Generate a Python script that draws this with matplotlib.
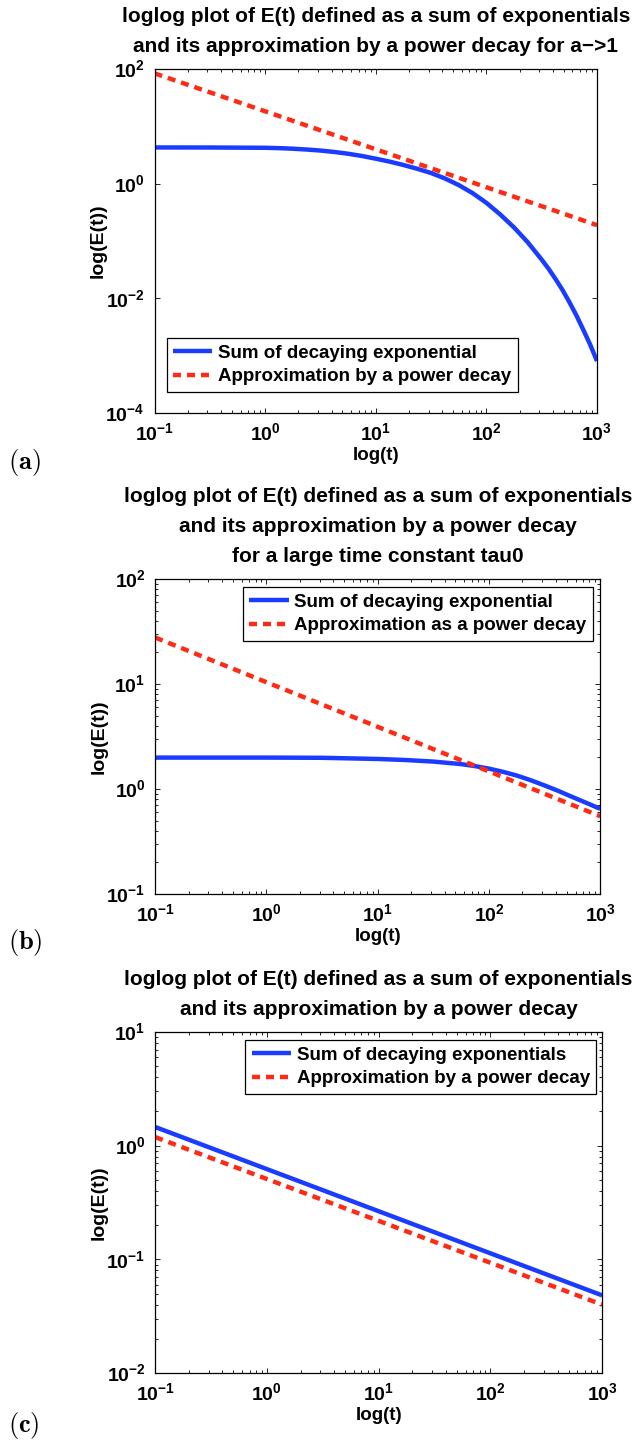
import matplotlib
matplotlib.use("Agg")
import matplotlib.pyplot as plt
from matplotlib.ticker import LogLocator, NullLocator

plt.rcParams['font.family'] = ['Liberation Sans', 'DejaVu Sans']
plt.rcParams['font.weight'] = 'bold'
plt.rcParams['mathtext.fontset'] = 'custom'
plt.rcParams['mathtext.rm'] = 'Liberation Sans'
plt.rcParams['mathtext.bf'] = 'Liberation Sans:bold'

# (a) a -> 1
t_a = [0.1, 0.316, 1, 1.33, 1.78, 2.37, 3.16, 4.22, 5.62, 7.50, 10, 13.3, 17.8,
       23.7, 31.6, 42.2, 56.2, 75.0, 100, 133, 178, 237, 316, 365, 422, 487,
       562, 649, 750, 866, 1000]
sum_a = [4.285, 4.276, 4.227, 4.169, 4.074, 3.945, 3.784, 3.573, 3.327, 3.041,
         2.729, 2.427, 2.118, 1.820, 1.535, 1.233, 0.946, 0.685, 0.463, 0.292,
         0.172, 0.0946, 0.0474, 0.0328, 0.0217, 0.01406, 0.00863, 0.00511,
         0.00286, 0.00157, 0.000805]
t_pow_a = [0.1, 1, 10, 100, 1000]
pow_a = [84, 18.3, 3.98, 0.867, 0.189]

# (b) large tau0
t_b = [0.1, 1, 3.16, 10, 17.8, 31.6, 56.2, 75.0, 100, 133, 178, 237, 316,
       422, 562, 750, 1000]
sum_b = [1.991, 1.991, 1.982, 1.932, 1.888, 1.824, 1.726, 1.652, 1.563, 1.459,
         1.343, 1.213, 1.081, 0.957, 0.839, 0.738, 0.647]
t_pow_b = [0.1, 1, 10, 100, 1000]
pow_b = [27.7, 10.4, 3.91, 1.47, 0.551]

# (c)
t_c = [0.1, 1, 10, 100, 1000]
sum_c = [1.46, 0.622, 0.265, 0.113, 0.0482]
pow_c = [1.19, 0.509, 0.218, 0.0933, 0.0399]

x_exps = [-1, 0, 1, 2, 3]

panels = [
    dict(pos=[0.240, 0.7134, 0.687, 0.2387], t=t_a, e=sum_a, tp=t_pow_a, ep=pow_a,
         ylim=(1e-4, 1e2), yexps=[-4, -2, 0, 2], yminor=False,
         title='loglog plot of E(t) defined as a sum of exponentials\n'
               'and its approximation by a power decay for a\u2212>1',
         labels=['Sum of decaying exponential', 'Approximation by a power decay'],
         leg=dict(loc='lower left', bbox_to_anchor=(0.027, 0.061)),
         tag='(a)', tag_y=0.6787),
    dict(pos=[0.241, 0.3796, 0.691, 0.2186], t=t_b, e=sum_b, tp=t_pow_b, ep=pow_b,
         ylim=(1e-1, 1e2), yexps=[-1, 0, 1, 2], yminor=True,
         title='loglog plot of E(t) defined as a sum of exponentials\n'
               'and its approximation by a power decay\n'
               'for a large time constant tau0',
         labels=['Sum of decaying exponential', 'Approximation as a power decay'],
         leg=dict(loc='upper right', bbox_to_anchor=(0.984, 0.975)),
         tag='(b)', tag_y=0.3456),
    dict(pos=[0.241, 0.0472, 0.694, 0.2366], t=t_c, e=sum_c, tp=t_c, ep=pow_c,
         ylim=(1e-2, 1e1), yexps=[-2, -1, 0, 1], yminor=True,
         title='loglog plot of E(t) defined as a sum of exponentials\n'
               'and its approximation by a power decay',
         labels=['Sum of decaying exponentials', 'Approximation by a power decay'],
         leg=dict(loc='upper right', bbox_to_anchor=(0.987, 0.977)),
         tag='(c)', tag_y=0.0111),
]


def dec_labels(exps):
    return [r'$\mathbf{10}^{\mathrm{%d}}$' % e for e in exps]


fig = plt.figure(figsize=(6.44, 14.41), dpi=100)

for p in panels:
    ax = fig.add_axes(p['pos'])
    ax.loglog(p['t'], p['e'], color='#1a3cff', linewidth=3.2,
              solid_capstyle='butt', label=p['labels'][0])
    ax.loglog(p['tp'], p['ep'], color='#ff2a14', linewidth=3.2,
              linestyle=(0, (1.8, 1.35)), dash_capstyle='butt', label=p['labels'][1])
    ax.set_xlim(0.1, 1000)
    ax.set_ylim(*p['ylim'])

    ax.set_xticks([10.0 ** e for e in x_exps])
    ax.set_xticklabels(dec_labels(x_exps))
    ax.set_yticks([10.0 ** e for e in p['yexps']])
    ax.set_yticklabels(dec_labels(p['yexps']))
    ax.xaxis.set_minor_locator(LogLocator(base=10, subs=range(2, 10)))
    if p['yminor']:
        ax.yaxis.set_minor_locator(LogLocator(base=10, subs=range(2, 10)))
    else:
        ax.yaxis.set_minor_locator(NullLocator())

    ax.tick_params(which='both', direction='in', top=True, right=True, width=0.6)
    ax.tick_params(which='major', length=3.5, labelsize=14, pad=7)
    ax.tick_params(which='minor', length=2)
    for s in ax.spines.values():
        s.set_linewidth(0.9)

    ax.set_xlabel('log(t)', fontsize=13.5, fontweight='bold', labelpad=1)
    ax.set_ylabel('log(E(t))', fontsize=14, fontweight='bold', labelpad=-1)
    ax.set_title(p['title'], fontsize=15, fontweight='bold', linespacing=1.75, pad=12)

    leg = ax.legend(prop={'weight': 'bold', 'size': 13.5}, borderaxespad=0,
                    fancybox=False, framealpha=1, edgecolor='black',
                    handlelength=2.1, handletextpad=0.3, labelspacing=0.35,
                    borderpad=0.35, **p['leg'])
    leg.get_frame().set_linewidth(0.9)

    fig.text(0.012, p['tag_y'], r'$\mathbf{%s}$' % p['tag'], math_fontfamily='cm',
             fontsize=19, va='center', ha='left')

fig.savefig('out.png', dpi=100)
